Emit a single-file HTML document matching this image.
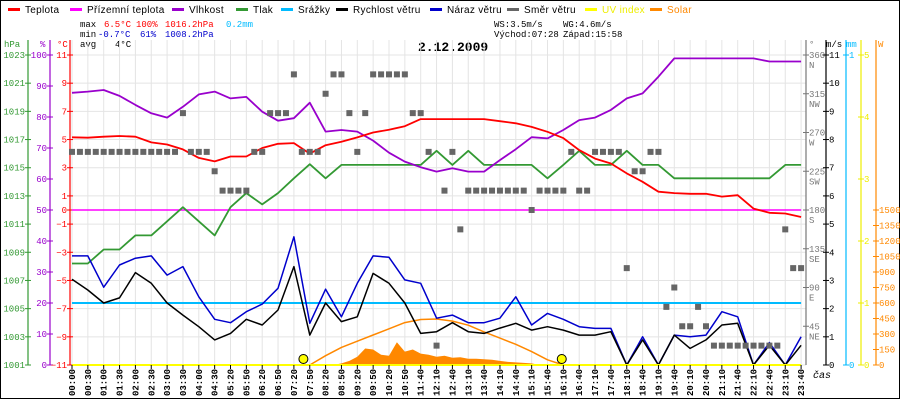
<!DOCTYPE html>
<html><head><meta charset="utf-8"><style>
html,body{margin:0;padding:0;background:#fff}
svg{display:block;font-family:"Liberation Sans",sans-serif}
.m{font-family:"Liberation Mono",monospace}
</style></head><body>
<svg id="c" width="900" height="400" viewBox="0 0 900 400">
<rect x="0.5" y="0.5" width="899" height="398" fill="#fff" stroke="#000"/>
<g id="legend" font-size="10" letter-spacing="0.3"></g>
<g font-size="9" class="m">
<text x="80" y="27" fill="#000">max</text><text x="104" y="27" fill="#f00">6.5°C</text><text x="136" y="27" fill="#f00">100%</text><text x="165" y="27" fill="#f00">1016.2hPa</text><text x="226" y="27" fill="#00bbff">0.2mm</text>
<text x="80" y="37" fill="#000">min</text><text x="98" y="37" fill="#00c">-0.7°C</text><text x="140" y="37" fill="#00c">61%</text><text x="165" y="37" fill="#00c">1008.2hPa</text>
<text x="80" y="47" fill="#000">avg</text><text x="115" y="47" fill="#000">4°C</text>
<text x="494" y="27" fill="#000">WS:3.5m/s</text><text x="563" y="27" fill="#000">WG:4.6m/s</text>
<text x="494" y="37" fill="#000">Východ:07:28</text><text x="563" y="37" fill="#000">Západ:15:58</text>
</g>
<text x="418" y="51" font-size="13" font-weight="bold" class="m">2.12.2009</text>
<g id="grid"></g>
<g id="axes" class="m" font-size="9"></g>
<g id="series"></g>
<g id="xlabels" class="m" font-size="9" font-weight="bold"></g>
<text x="813" y="378" font-size="10" font-style="italic" class="m">čas</text>
</svg>
<script>
const timeLabels=["00:00","00:30","01:00","01:30","02:00","02:30","03:00","03:30","04:00","04:30","05:20","05:50","06:20","06:50","07:20","07:50","08:20","08:50","09:20","09:50","10:20","10:50","11:40","12:10","12:40","13:10","13:40","14:10","14:40","15:10","15:40","16:10","16:40","17:10","17:40","18:10","18:40","19:10","19:40","20:10","20:40","21:10","21:40","22:10","22:40","23:10","23:40"];
const tempValues=[5.16,5.13,5.2,5.25,5.2,4.8,4.65,4.3,3.7,3.45,3.8,3.8,4.4,4.7,4.75,4.0,4.6,4.85,5.15,5.5,5.7,5.95,6.45,6.45,6.45,6.45,6.45,6.3,6.15,5.9,5.55,5.1,4.25,3.65,3.3,2.6,2.0,1.3,1.2,1.15,1.15,0.95,1.05,0.1,-0.2,-0.25,-0.5];
const humidityValues=[87.8,88.2,88.7,86.8,83.9,81.2,79.8,83.3,87.3,88.2,86,86.5,81.7,78.8,79.6,84.6,75.3,75.8,75.3,72.4,68.5,65.6,63.8,62.4,63.5,62.4,62.4,66.1,69.6,73.5,73.1,75.8,79,79.8,82.3,86,87.6,93,98.9,98.9,98.9,98.9,98.9,98.9,97.9,97.9,97.9];
const pressureValues=[1008.2,1008.2,1009.2,1009.2,1010.2,1010.2,1011.2,1012.2,1011.2,1010.2,1012.2,1013.2,1012.4,1013.2,1014.25,1015.25,1014.25,1015.2,1015.2,1015.2,1015.2,1015.2,1015.2,1016.2,1015.2,1016.2,1015.2,1015.2,1015.2,1015.2,1014.25,1015.2,1016.2,1015.2,1015.2,1016.2,1015.2,1015.2,1014.25,1014.25,1014.25,1014.25,1014.25,1014.25,1014.25,1015.2,1015.2];
const windValues=[3.04,2.66,2.2,2.38,3.28,2.9,2.2,1.77,1.36,0.89,1.12,1.62,1.42,1.95,3.49,1.06,2.2,1.54,1.71,3.25,2.9,2.2,1.12,1.18,1.5,1.18,1.12,1.31,1.48,1.24,1.36,1.24,1.06,1.06,1.18,0,0.89,0,1.06,0.59,0.89,1.42,1.48,0,0.7,0,0.7];
const gustValues=[3.87,3.87,2.76,3.55,3.79,3.87,3.19,3.49,2.42,1.62,1.5,1.89,2.16,2.72,4.55,1.48,2.69,1.71,2.9,3.87,3.82,3.02,2.9,1.66,1.77,1.5,1.5,1.66,2.42,1.42,1.83,1.62,1.36,1.3,1.3,0,1.0,0,1.06,1.0,1.06,1.89,1.71,0,0.8,0,1.0];
const feelsLikeValues=new Array(47).fill(0);
const rainValues=new Array(47).fill(0.2);
const uvValues=new Array(47).fill(0);
const dirValues=[247.5,247.5,247.5,247.5,247.5,247.5,247.5,247.5,247.5,247.5,247.5,247.5,247.5,247.5,292.5,247.5,247.5,247.5,225,202.5,202.5,202.5,202.5,247.5,247.5,292.5,292.5,292.5,337.5,247.5,247.5,247.5,315,337.5,337.5,292.5,247.5,292.5,337.5,337.5,337.5,337.5,337.5,292.5,292.5,247.5,22.5,202.5,247.5,157.5,202.5,202.5,202.5,202.5,202.5,202.5,202.5,202.5,180,202.5,202.5,202.5,202.5,247.5,202.5,202.5,247.5,247.5,247.5,247.5,112.5,225,225,247.5,247.5,67.5,90,45,45,67.5,45,22.5,22.5,22.5,22.5,22.5,22.5,22.5,22.5,22.5,157.5,112.5,112.5];
const solarValues=[0,0,0,0,0,0,0,0,0,0,0,0,0,0,0,0,0,0,0,0,0,0,0,0,0,0,0,0,0,0,0,0,0,0,15,40,80,160,150,100,90,220,130,150,110,100,80,90,70,75,60,60,55,50,40,30,25,20,15,0,0,0,0,0,0,0,0,0,0,0,0,0,0,0,0,0,0,0,0,0,0,0,0,0,0,0,0,0,0,0,0,0,0];
const solarTheoryValues=[null,null,null,null,null,null,null,null,null,null,null,null,null,null,null,0,90,170,230,290,350,410,440,445,425,385,320,260,200,130,50,0,null,null,null,null,null,null,null,null,null,null,null,null,null,null,null];
const sunMarkers=[14.6,30.9];

const NS="http://www.w3.org/2000/svg";
const X0=72,DX=15.85,TOP=55,BOT=365,H=310;
const xOf=t=>X0+t*DX;
const yT=v=>210-v*H/22;
const yH=v=>BOT-v*H/100;
const yP=v=>BOT-(v-1001)*H/22;
const yW=v=>BOT-v*H/11;
const yD=v=>BOT-v*H/360;
const yR=v=>BOT-v*H;
const yU=v=>BOT-v*H/5;
const yS=v=>BOT-v*155/1500;
function el(tag,attrs,parent){const e=document.createElementNS(NS,tag);for(const k in attrs)e.setAttribute(k,attrs[k]);parent.appendChild(e);return e;}
const $=id=>document.getElementById(id);

const legendItems=[["Teplota","#f00",8],["Přízemní teplota","#f0f",70],["Vlhkost","#90c",172],["Tlak","#393",236],["Srážky","#00bbff",281],["Rychlost větru","#000",336],["Náraz větru","#00c",430],["Směr větru","#666",507],["UV index","#ff0",585],["Solar","#f80",650]];
legendItems.forEach(([t,c,x])=>{
 const g=el('g',{},$('legend'));
 
 
 el('rect',{x:x,y:8,width:12,height:3,fill:c},g);
 const tx=el('text',{x:x+17,y:13,fill:(c=="#ff0"?"#ee0":(c=="#f80"?"#f80":"#000"))},g);tx.textContent=t;
});

const grid=$('grid');
timeLabels.forEach((l,i)=>{const ln=el('line',{x1:xOf(i),x2:xOf(i),y1:40,y2:BOT,stroke:"#e4e4e4"},grid);
 });
for(let v=11;v>=-11;v-=2){const ln=el('line',{x1:70,x2:806,y1:yT(v),y2:yT(v),stroke:"#e4e4e4"},grid);
 }

const ax=$('axes');
function axis(x,color,name,ticks,yf,labelSide,header,hx){
 const g=el('g',{fill:color},ax);
 
 
 el('line',{x1:x,x2:x,y1:40,y2:BOT,stroke:color,'stroke-width':1.2},g);
 ticks.forEach(t=>{const y=yf(t.v);
  el('line',{x1:x-3,x2:x+3,y1:y,y2:y,stroke:color},g);
  const tx=el('text',{x:labelSide<0?x-3:x+3,y:y+3,'text-anchor':labelSide<0?'end':'start'},g);tx.textContent=t.l;
  if(t.l2){const t2=el('text',{x:x+3,y:y+13},g);t2.textContent=t.l2;}
 });
 const h=el('text',{x:hx,y:47},g);h.textContent=header;
}
const hpaTicks=[];for(let v=1023;v>=1001;v-=2)hpaTicks.push({v:v,l:String(v)});
axis(28,"#393","pressure-axis",hpaTicks,yP,-1,"hPa",4);
const humTicks=[];for(let v=100;v>=0;v-=10)humTicks.push({v:v,l:String(v)});
axis(50,"#90c","humidity-axis",humTicks,yH,-1,"%",40);
const tTicks=[11,9,7,5,3,1,0,-1,-3,-5,-7,-9,-11].map(v=>({v:v,l:String(v).replace('-','−')}));
axis(70,"#f00","temperature-axis",tTicks,yT,-1,"°C",57);
const dirTicks=[[360,"N"],[315,"NW"],[270,"W"],[225,"SW"],[180,"S"],[135,"SE"],[90,"E"],[45,"NE"]].map(a=>({v:a[0],l:String(a[0]),l2:a[1]}));
axis(806,"#777","direction-axis",dirTicks,yD,1,"°",809);
const wTicks=[];for(let v=11;v>=0;v--)wTicks.push({v:v,l:String(v)});
axis(826,"#000","wind-axis",wTicks,yW,1,"m/s",826);
axis(846,"#00bbff","rain-axis",[{v:1,l:"1"},{v:0,l:"0"}],yR,1,"mm",846);
const uTicks=[];for(let v=5;v>=0;v--)uTicks.push({v:v,l:String(v)});
axis(861,"#ee0","uv-axis",uTicks,yU,1,"",862);
const sTicks=[];for(let v=1500;v>=0;v-=150)sTicks.push({v:v,l:String(v)});
axis(876,"#f80","solar-axis",sTicks,yS,1,"W",878);

const xl=$('xlabels');
timeLabels.forEach((l,i)=>{const x=xOf(i);
 const tk=el('line',{x1:x,x2:x,y1:BOT,y2:BOT+4,stroke:"#000"},xl);
 
 const t=el('text',{transform:`translate(${x+3},396) rotate(-90)`},xl);t.textContent=l;
 
});

const S=$('series');
function pts(arr,yf,step){const p=[];arr.forEach((v,i)=>{if(v!==null)p.push(xOf(i*step).toFixed(1)+","+yf(v).toFixed(1));});return p.join(" ");}
const sa=[];solarValues.forEach((v,i)=>sa.push(xOf(i*0.5).toFixed(1)+","+yS(v).toFixed(1)));
const area=el('polygon',{points:xOf(0)+","+BOT+" "+sa.join(" ")+" "+xOf(46)+","+BOT,fill:"#f80"},S);

function line(arr,yf,color,name,w,step){const p=el('polyline',{points:pts(arr,yf,step||1),fill:"none",stroke:color,'stroke-width':w||2,'stroke-linejoin':'round'},S);
 return p;}
line(solarTheoryValues,yS,"#f80","solar-theory-line",1.5);
line(rainValues,yR,"#00bbff","rain-line",2);
line(feelsLikeValues,yT,"#f0f","feels-like-line",1.5);
line(pressureValues,yP,"#393","pressure-line",1.8);
line(humidityValues,yH,"#90c","humidity-line",1.8);
line(tempValues,yT,"#f00","temperature-line",1.8);
line(gustValues,yW,"#00c","gust-line",1.5);
line(windValues,yW,"#000","wind-line",1.5);
line(uvValues,yU,"#ff0","uv-line",2);
dirValues.forEach((v,i)=>{if(v===null)return;
 const r=el('rect',{x:xOf(i*0.5)-3,y:yD(v)-3,width:6,height:6,fill:"#666"},S);
 });
sunMarkers.forEach(t=>{const c=el('circle',{cx:xOf(t),cy:359,r:4.5,fill:"#ff0",stroke:"#000"},S);
 });
</script>
</body></html>
